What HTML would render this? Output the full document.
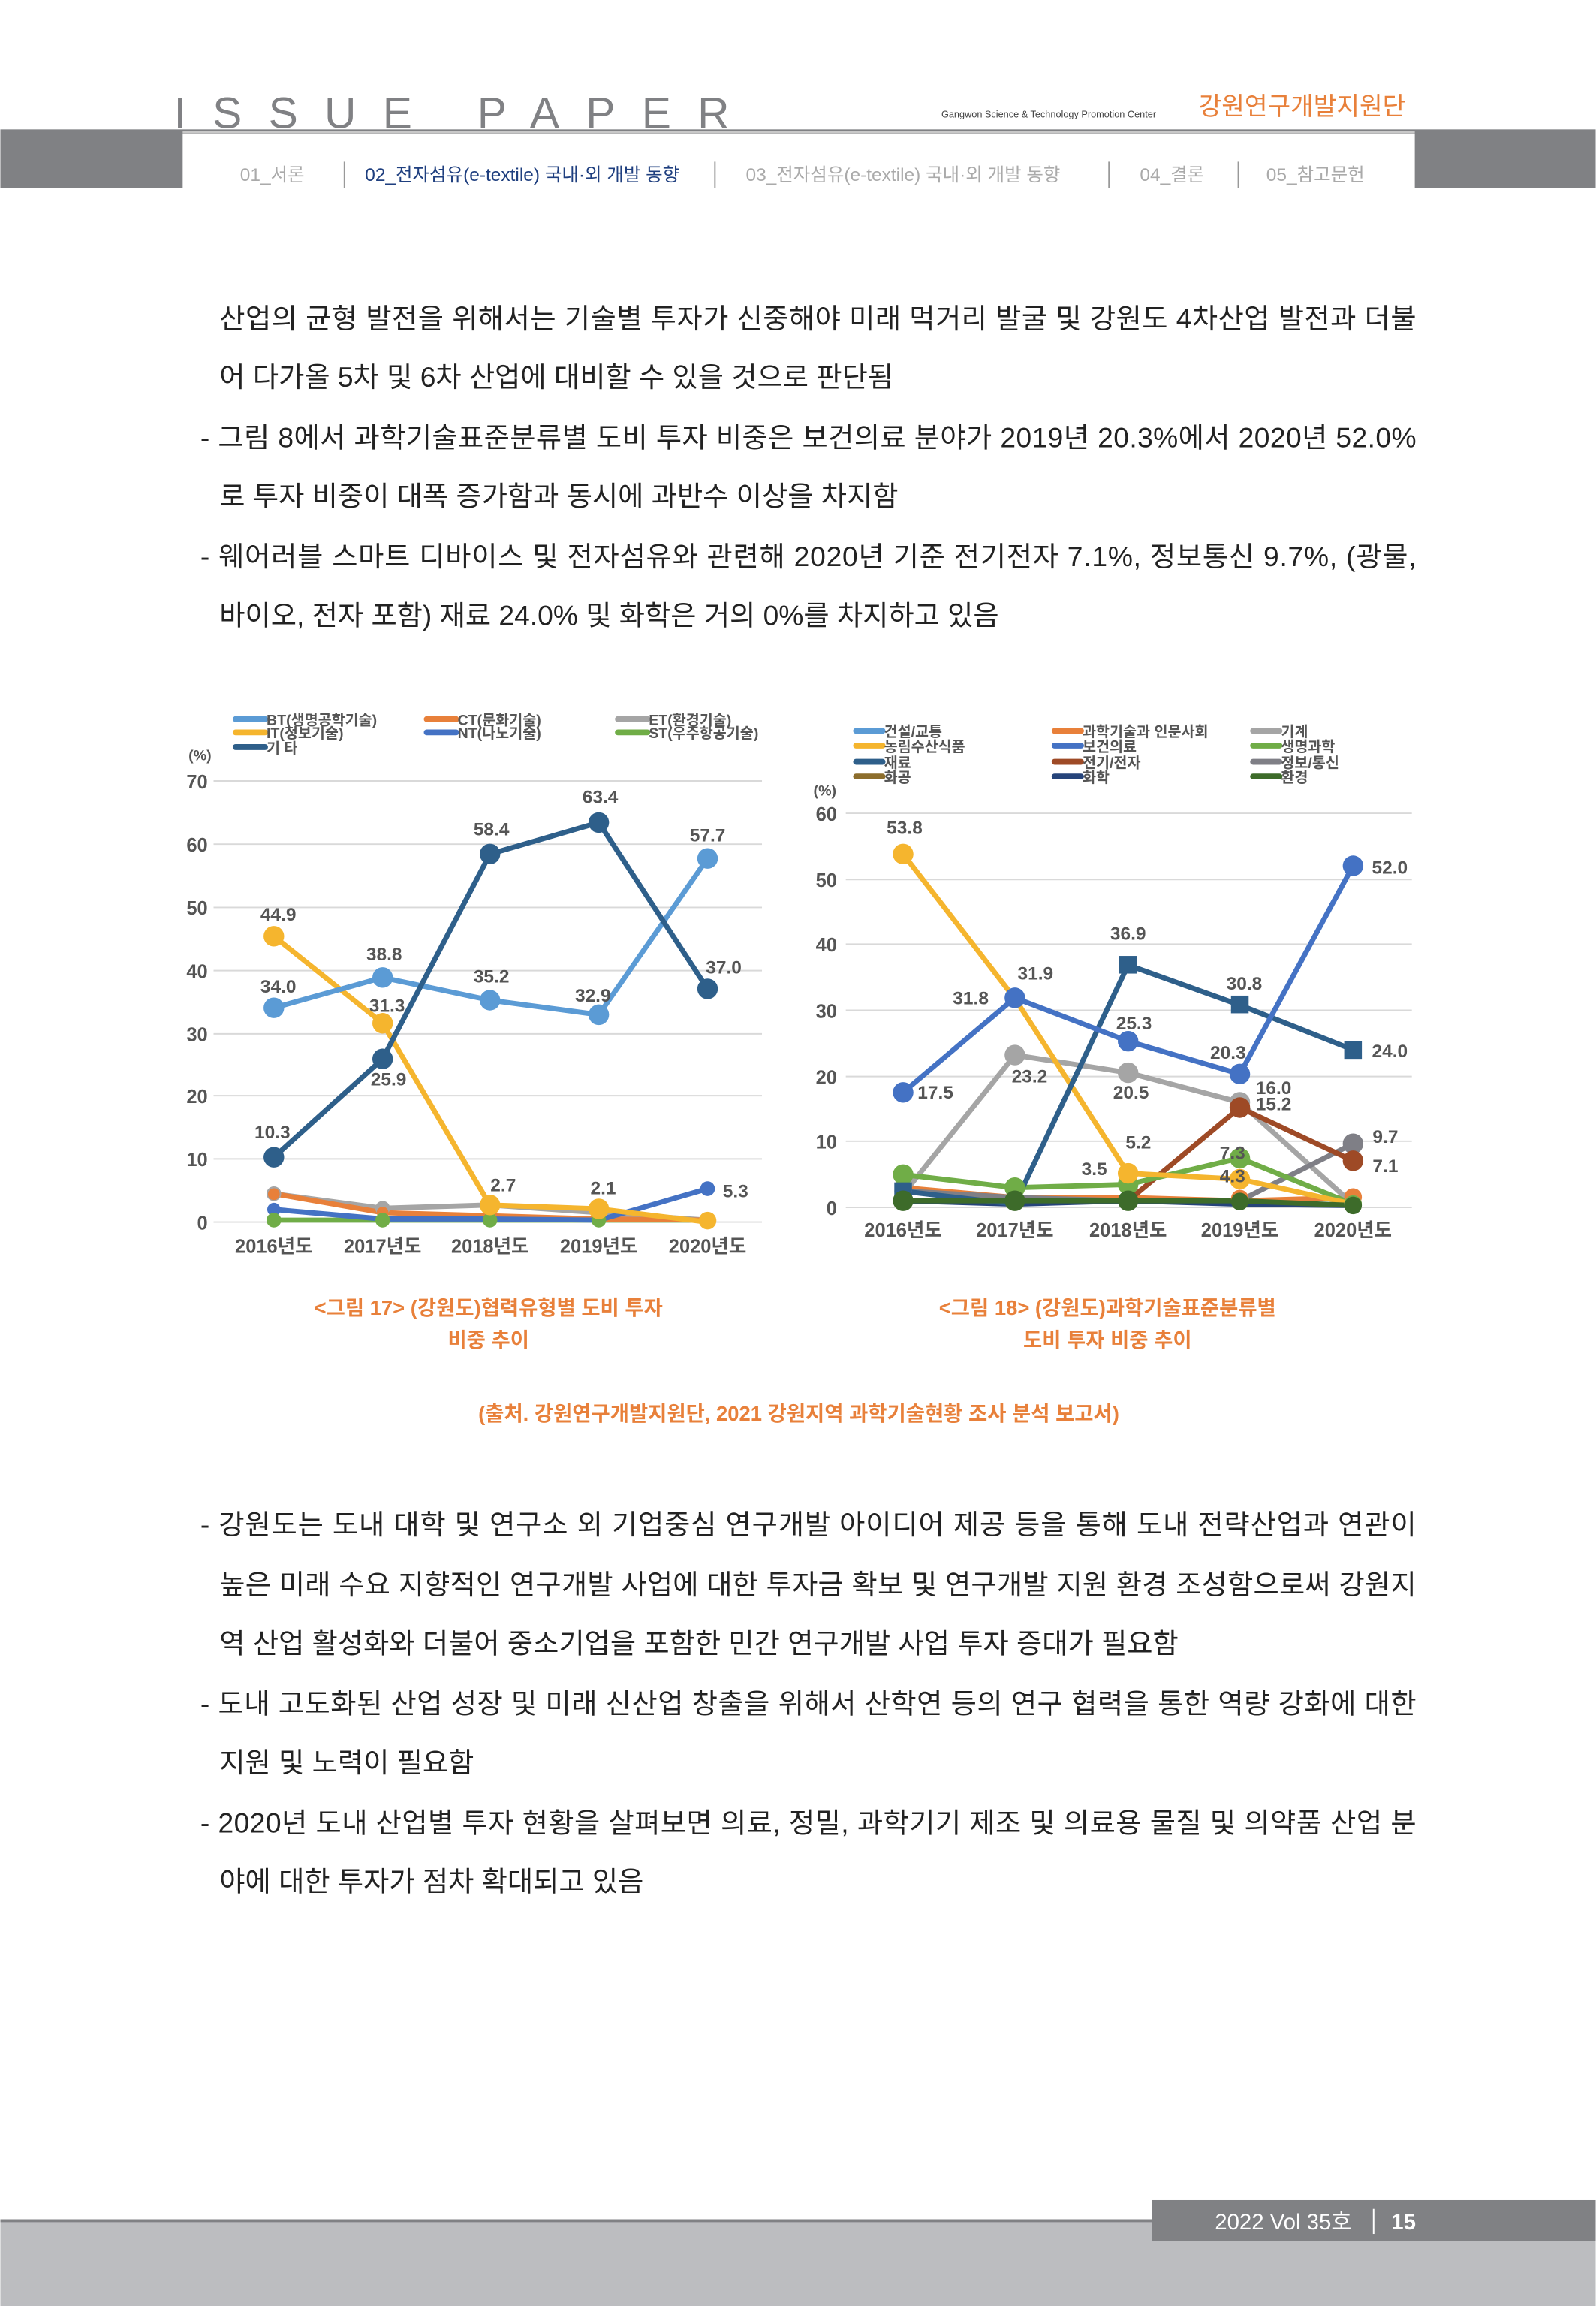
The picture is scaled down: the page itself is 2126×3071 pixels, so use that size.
<!DOCTYPE html>
<html><head><meta charset="utf-8"><style>
html,body{margin:0;padding:0;background:#fff;}
svg{display:block;}
text{font-family:"Liberation Sans","Noto Sans CJK KR",sans-serif;}
.b{font-size:19px;fill:#222;}
.nav{font-size:12.5px;fill:#aaa;}
.ax{font-size:13px;fill:#555;font-weight:bold;}
.lb{font-size:12.5px;fill:#555;font-weight:bold;}
.lg{font-size:10px;fill:#555;font-weight:bold;}
.cap{font-size:14px;fill:#e8803a;font-weight:bold;}
.g{stroke:#d9d9d9;stroke-width:1;}
</style></head><body>
<svg width="2126" height="3071" viewBox="0 0 1085 1568" xmlns="http://www.w3.org/2000/svg">
<rect width="1085" height="1568" fill="#fff"/>
<!-- header -->
<rect x="0" y="88" width="1085" height="40" fill="#808184"/>
<rect x="124" y="91" width="838" height="40" fill="#fff"/>
<line x1="124" y1="90" x2="962" y2="90" stroke="#c8c8c8" stroke-width="1.5"/>
<text x="118" y="87" font-size="30" fill="#808184" letter-spacing="18" font-family="Liberation Sans Narrow, Liberation Sans, sans-serif">ISSUE PAPER</text>
<text x="640" y="80" font-size="6.5" fill="#444">Gangwon Science &amp; Technology Promotion Center</text>
<text x="815" y="78" font-size="17" fill="#e8803a">강원연구개발지원단</text>
<text x="163" y="123" class="nav">01_서론</text>
<line x1="234" y1="110" x2="234" y2="128" stroke="#999"/>
<text x="248" y="123" class="nav" style="fill:#1f3f7f">02_전자섬유(e-textile) 국내·외 개발 동향</text>
<line x1="486" y1="110" x2="486" y2="128" stroke="#999"/>
<text x="507" y="123" class="nav">03_전자섬유(e-textile) 국내·외 개발 동향</text>
<line x1="754" y1="110" x2="754" y2="128" stroke="#999"/>
<text x="775" y="123" class="nav">04_결론</text>
<line x1="842" y1="110" x2="842" y2="128" stroke="#999"/>
<text x="861" y="123" class="nav">05_참고문헌</text>

<!-- body text -->
<text x="149" y="223" class="b" textLength="814" lengthAdjust="spacing">산업의 균형 발전을 위해서는 기술별 투자가 신중해야 미래 먹거리 발굴 및 강원도 4차산업 발전과 더불</text>
<text x="149" y="263" class="b">어 다가올 5차 및 6차 산업에 대비할 수 있을 것으로 판단됨</text>
<text x="136" y="304" class="b" textLength="827" lengthAdjust="spacing">- 그림 8에서 과학기술표준분류별 도비 투자 비중은 보건의료 분야가 2019년 20.3%에서 2020년 52.0%</text>
<text x="149" y="344" class="b">로 투자 비중이 대폭 증가함과 동시에 과반수 이상을 차지함</text>
<text x="136" y="385" class="b" textLength="827" lengthAdjust="spacing">- 웨어러블 스마트 디바이스 및 전자섬유와 관련해 2020년 기준 전기전자 7.1%, 정보통신 9.7%, (광물,</text>
<text x="149" y="425" class="b">바이오, 전자 포함) 재료 24.0% 및 화학은 거의 0%를 차지하고 있음</text>

<!-- chart 1 -->
<g>
<line x1="145" y1="531" x2="518" y2="531" class="g"/><line x1="145" y1="574" x2="518" y2="574" class="g"/>
<line x1="145" y1="617" x2="518" y2="617" class="g"/><line x1="145" y1="660" x2="518" y2="660" class="g"/>
<line x1="145" y1="703" x2="518" y2="703" class="g"/><line x1="145" y1="745" x2="518" y2="745" class="g"/>
<line x1="145" y1="788" x2="518" y2="788" class="g"/><line x1="145" y1="831" x2="518" y2="831" class="g"/>
<g class="ax" text-anchor="end"><text x="141" y="536">70</text><text x="141" y="579">60</text><text x="141" y="622">50</text><text x="141" y="665">40</text><text x="141" y="708">30</text><text x="141" y="750">20</text><text x="141" y="793">10</text><text x="141" y="836">0</text></g>
<text x="128" y="517" class="lg">(%)</text>
<g class="ax" text-anchor="middle"><text x="186" y="852">2016년도</text><text x="260" y="852">2017년도</text><text x="333" y="852">2018년도</text><text x="407" y="852">2019년도</text><text x="481" y="852">2020년도</text></g>
<g stroke-width="4" stroke-linecap="round">
<line x1="160" y1="489" x2="180" y2="489" stroke="#5b9bd5"/><line x1="160" y1="498" x2="180" y2="498" stroke="#f5b52e"/><line x1="160" y1="508" x2="180" y2="508" stroke="#2e5f8a"/>
<line x1="290" y1="489" x2="310" y2="489" stroke="#e8803a"/><line x1="290" y1="498" x2="310" y2="498" stroke="#4472c4"/>
<line x1="420" y1="489" x2="440" y2="489" stroke="#a5a5a5"/><line x1="420" y1="498" x2="440" y2="498" stroke="#70ad47"/>
</g>
<g class="lg"><text x="181" y="493">BT(생명공학기술)</text><text x="181" y="502">IT(정보기술)</text><text x="181" y="512">기 타</text>
<text x="311" y="493">CT(문화기술)</text><text x="311" y="502">NT(나노기술)</text>
<text x="441" y="493">ET(환경기술)</text><text x="441" y="502">ST(우주항공기술)</text></g>
<g fill="none" stroke-width="3.5">
<polyline stroke="#70ad47" points="186,829.7 260,829.7 333,829.7 407,829.7 481,829.7"/>
<polyline stroke="#a5a5a5" points="186,811.7 260,821.6 333,819.4 407,824.6 481,829.7"/>
<polyline stroke="#e8803a" points="186,811.7 260,824.6 333,826.7 407,828.9 481,829.7"/>
<polyline stroke="#4472c4" points="186,822.4 260,828.9 333,828.9 407,829.7 481,808.3"/>
<polyline stroke="#f5b52e" points="186,636.6 260,695.8 333,819.4 407,822 481,831"/>
<polyline stroke="#5b9bd5" points="186,685.3 260,664.7 333,680.1 407,690 481,583.7"/>
<polyline stroke="#2e5f8a" points="186,786.9 260,720 333,580.7 407,559.3 481,672.4"/>
</g>
<g>
<g fill="#a5a5a5"><circle cx="186" cy="811.7" r="5"/><circle cx="260" cy="821.6" r="5"/><circle cx="333" cy="819.4" r="5"/><circle cx="407" cy="824.6" r="5"/></g>
<g fill="#e8803a"><circle cx="186" cy="812" r="4"/><circle cx="260" cy="824.6" r="4"/><circle cx="333" cy="826.7" r="4"/></g>
<g fill="#4472c4"><circle cx="186" cy="822.4" r="4.5"/><circle cx="481" cy="808.3" r="5"/></g>
<g fill="#70ad47"><circle cx="186" cy="829.7" r="5"/><circle cx="260" cy="829.7" r="5"/><circle cx="333" cy="829.7" r="5"/><circle cx="407" cy="829.7" r="5"/><circle cx="481" cy="829.7" r="5"/></g>
<g fill="#f5b52e"><circle cx="186" cy="636.6" r="7"/><circle cx="260" cy="695.8" r="7"/><circle cx="333" cy="819.4" r="7"/><circle cx="407" cy="822" r="7"/><circle cx="481" cy="830" r="6"/></g>
<g fill="#5b9bd5"><circle cx="186" cy="685.3" r="7"/><circle cx="260" cy="664.7" r="7"/><circle cx="333" cy="680.1" r="7"/><circle cx="407" cy="690" r="7"/><circle cx="481" cy="583.7" r="7"/></g>
<g fill="#2e5f8a"><circle cx="186" cy="786.9" r="7"/><circle cx="260" cy="720" r="7"/><circle cx="333" cy="580.7" r="7"/><circle cx="407" cy="559.3" r="7"/><circle cx="481" cy="672.4" r="7"/></g>
</g>
<g class="lb" text-anchor="middle">
<text x="189" y="626">44.9</text><text x="189" y="675">34.0</text><text x="261" y="653">38.8</text><text x="263" y="688">31.3</text><text x="264" y="738">25.9</text>
<text x="185" y="774">10.3</text><text x="334" y="568">58.4</text><text x="334" y="668">35.2</text><text x="342" y="810">2.7</text>
<text x="408" y="546">63.4</text><text x="403" y="681">32.9</text><text x="410" y="812">2.1</text>
<text x="481" y="572">57.7</text><text x="492" y="662">37.0</text><text x="500" y="814">5.3</text>
</g>
</g>
<text x="332" y="894" class="cap" text-anchor="middle">&lt;그림 17&gt; (강원도)협력유형별 도비 투자</text>
<text x="332" y="916" class="cap" text-anchor="middle">비중 추이</text>

<!-- chart 2 -->
<g>
<line x1="575" y1="553" x2="960" y2="553" class="g"/><line x1="575" y1="598" x2="960" y2="598" class="g"/>
<line x1="575" y1="642" x2="960" y2="642" class="g"/><line x1="575" y1="687" x2="960" y2="687" class="g"/>
<line x1="575" y1="732" x2="960" y2="732" class="g"/><line x1="575" y1="776" x2="960" y2="776" class="g"/>
<line x1="575" y1="821" x2="960" y2="821" class="g"/>
<g class="ax" text-anchor="end"><text x="569" y="558">60</text><text x="569" y="603">50</text><text x="569" y="647">40</text><text x="569" y="692">30</text><text x="569" y="737">20</text><text x="569" y="781">10</text><text x="569" y="826">0</text></g>
<text x="553" y="541" class="lg">(%)</text>
<g class="ax" text-anchor="middle"><text x="614" y="841">2016년도</text><text x="690" y="841">2017년도</text><text x="767" y="841">2018년도</text><text x="843" y="841">2019년도</text><text x="920" y="841">2020년도</text></g>
<g stroke-width="4" stroke-linecap="round">
<line x1="582" y1="497" x2="600" y2="497" stroke="#5b9bd5"/><line x1="582" y1="507" x2="600" y2="507" stroke="#f5b52e"/><line x1="582" y1="518" x2="600" y2="518" stroke="#2e5f8a"/><line x1="582" y1="528" x2="600" y2="528" stroke="#8c6d2c"/>
<line x1="717" y1="497" x2="735" y2="497" stroke="#e8803a"/><line x1="717" y1="507" x2="735" y2="507" stroke="#4472c4"/><line x1="717" y1="518" x2="735" y2="518" stroke="#9e4a26"/><line x1="717" y1="528" x2="735" y2="528" stroke="#26447a"/>
<line x1="852" y1="497" x2="870" y2="497" stroke="#a5a5a5"/><line x1="852" y1="507" x2="870" y2="507" stroke="#70ad47"/><line x1="852" y1="518" x2="870" y2="518" stroke="#7f7f86"/><line x1="852" y1="528" x2="870" y2="528" stroke="#3d6b2a"/>
</g>
<g class="lg"><text x="601" y="501">건설/교통</text><text x="601" y="511">농림수산식품</text><text x="601" y="522">재료</text><text x="601" y="532">화공</text>
<text x="736" y="501">과학기술과 인문사회</text><text x="736" y="511">보건의료</text><text x="736" y="522">전기/전자</text><text x="736" y="532">화학</text>
<text x="871" y="501">기계</text><text x="871" y="511">생명과학</text><text x="871" y="522">정보/통신</text><text x="871" y="532">환경</text></g>
<g fill="none" stroke-width="3.5">
<polyline stroke="#e8803a" points="614,807.6 690,814.3 767,814.3 843,816.5 920,814.3"/>
<polyline stroke="#a5a5a5" points="614,812 690,717.4 767,729.4 843,749.5 920,818.8"/>
<polyline stroke="#7f7f86" points="614,809.8 690,814.3 767,816.5 843,816.5 920,777.7"/>
<polyline stroke="#9e4a26" points="614,816.5 690,816.5 767,816.5 843,753.1 920,789.3"/>
<polyline stroke="#70ad47" points="614,798.7 690,807.6 767,805.4 843,787.5 920,818.8"/>
<polyline stroke="#f5b52e" points="614,580.7 690,679 767,797.8 843,801.8 920,818.8"/>
<polyline stroke="#26447a" points="614,816.5 690,818.8 767,816.5 843,818.8 920,819.7"/>
<polyline stroke="#2e5f8a" points="614,810 690,818.8 767,656.2 843,683.4 920,713.8"/>
<polyline stroke="#4472c4" points="614,742.8 690,678.5 767,708 843,730.3 920,588.7"/>
<polyline stroke="#3d6b2a" points="614,816.5 690,816.5 767,816.5 843,816.5 920,819.7"/>
</g>
<g>
<g fill="#e8803a"><circle cx="843" cy="815" r="6"/><circle cx="920" cy="814" r="6"/></g>
<g fill="#a5a5a5"><circle cx="690" cy="717.4" r="7"/><circle cx="767" cy="729.4" r="7"/><circle cx="843" cy="749.5" r="7"/><circle cx="920" cy="818.8" r="6"/><circle cx="614" cy="810" r="6"/></g>
<g fill="#7f7f86"><circle cx="920" cy="777.7" r="7"/></g>
<g fill="#9e4a26"><circle cx="843" cy="753.1" r="7"/><circle cx="920" cy="789.3" r="7"/></g>
<g fill="#70ad47"><circle cx="614" cy="798.7" r="7"/><circle cx="690" cy="807.6" r="7"/><circle cx="767" cy="805.4" r="7"/><circle cx="843" cy="787.5" r="7"/><circle cx="920" cy="818.8" r="6"/></g>
<g fill="#f5b52e"><circle cx="614" cy="580.7" r="7"/><circle cx="767" cy="797.8" r="7"/><circle cx="843" cy="801.8" r="7"/></g>
<g fill="#2e5f8a"><rect x="608" y="804" width="12" height="12"/><rect x="761" y="650" width="12" height="12"/><rect x="837" y="677" width="12" height="12"/><rect x="914" y="708" width="12" height="12"/></g>
<g fill="#4472c4"><circle cx="614" cy="742.8" r="7"/><circle cx="690" cy="678.5" r="7"/><circle cx="767" cy="708" r="7"/><circle cx="843" cy="730.3" r="7"/><circle cx="920" cy="588.7" r="7"/></g>
<g fill="#3d6b2a"><circle cx="614" cy="816.5" r="7"/><circle cx="690" cy="816.5" r="7"/><circle cx="767" cy="816.5" r="7"/><circle cx="843" cy="817" r="6"/><circle cx="920" cy="819.7" r="6"/></g>
</g>
<g class="lb" text-anchor="middle">
<text x="615" y="567">53.8</text><text x="636" y="747">17.5</text><text x="660" y="683">31.8</text><text x="704" y="666">31.9</text><text x="700" y="736">23.2</text>
<text x="767" y="639">36.9</text><text x="771" y="700">25.3</text><text x="769" y="747">20.5</text><text x="744" y="799">3.5</text><text x="774" y="781">5.2</text>
<text x="846" y="673">30.8</text><text x="835" y="720">20.3</text><text x="866" y="744">16.0</text><text x="866" y="755">15.2</text><text x="838" y="788">7.3</text><text x="838" y="804">4.3</text>
<text x="945" y="719">24.0</text><text x="945" y="594">52.0</text><text x="942" y="777">9.7</text><text x="942" y="797">7.1</text>
</g>
</g>
<text x="753" y="894" class="cap" text-anchor="middle">&lt;그림 18&gt; (강원도)과학기술표준분류별</text>
<text x="753" y="916" class="cap" text-anchor="middle">도비 투자 비중 추이</text>
<text x="543" y="966" class="cap" text-anchor="middle">(출처. 강원연구개발지원단, 2021 강원지역 과학기술현황 조사 분석 보고서)</text>

<text x="136" y="1043" class="b" textLength="827" lengthAdjust="spacing">- 강원도는 도내 대학 및 연구소 외 기업중심 연구개발 아이디어 제공 등을 통해 도내 전략산업과 연관이</text>
<text x="149" y="1084" class="b" textLength="814" lengthAdjust="spacing">높은 미래 수요 지향적인 연구개발 사업에 대한 투자금 확보 및 연구개발 지원 환경 조성함으로써 강원지</text>
<text x="149" y="1124" class="b">역 산업 활성화와 더불어 중소기업을 포함한 민간 연구개발 사업 투자 증대가 필요함</text>
<text x="136" y="1165" class="b" textLength="827" lengthAdjust="spacing">- 도내 고도화된 산업 성장 및 미래 신산업 창출을 위해서 산학연 등의 연구 협력을 통한 역량 강화에 대한</text>
<text x="149" y="1205" class="b">지원 및 노력이 필요함</text>
<text x="136" y="1246" class="b" textLength="827" lengthAdjust="spacing">- 2020년 도내 산업별 투자 현황을 살펴보면 의료, 정밀, 과학기기 제조 및 의료용 물질 및 의약품 산업 분</text>
<text x="149" y="1286" class="b">야에 대한 투자가 점차 확대되고 있음</text>

<!-- footer -->
<rect x="0" y="1510" width="1085" height="58" fill="#bcbdc0"/>
<line x1="0" y1="1510" x2="1085" y2="1510" stroke="#808184" stroke-width="2"/>
<rect x="783" y="1496" width="302" height="28" fill="#808184"/>
<text x="826" y="1516" font-size="15" fill="#fff">2022 Vol 35호</text>
<line x1="934" y1="1502" x2="934" y2="1519" stroke="#fff"/>
<text x="946" y="1516" font-size="15" fill="#fff" font-weight="bold">15</text>
</svg>
</body></html>
